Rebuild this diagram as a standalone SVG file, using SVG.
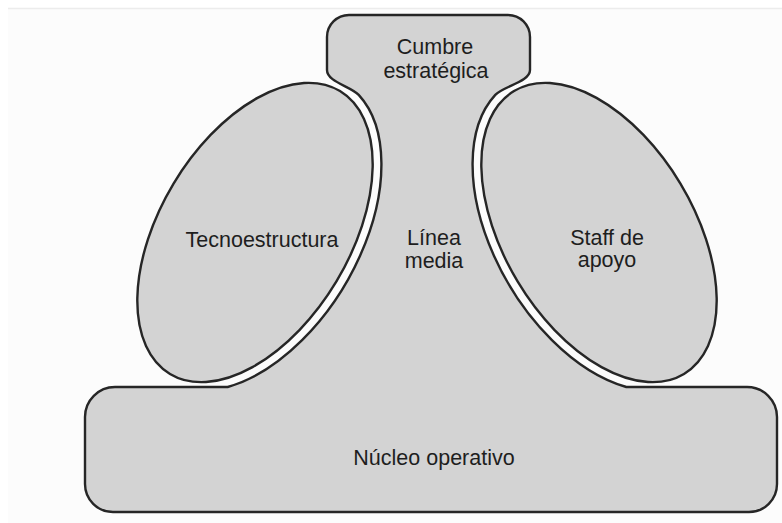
<svg xmlns="http://www.w3.org/2000/svg" width="782" height="523" viewBox="0 0 782 523">
  <style>
    .shape { fill: #d3d3d3; stroke: #262626; stroke-width: 2.4; }
    .label { font-family: "Liberation Sans", Arial, sans-serif; font-size: 21.5px; fill: #1e1e1e; text-anchor: middle; }
  </style>
  <rect x="0" y="0" width="782" height="523" fill="#ffffff"/>
  <rect x="8" y="8" width="774" height="515" fill="#fcfcfc"/>
  <line x1="8" y1="8.5" x2="782" y2="8.5" stroke="#ececec" stroke-width="1.5"/>

  <g id="cumbre-linea-nucleo">
    <path class="shape" d="M 115,387 L 227.7,387 A 104 174 31 0 0 358.7,94.9 C 350.6,86.1 327,82 327,70 L 327,37 A 22 22 0 0 1 349,15 L 508,15 A 22 22 0 0 1 530,37 L 530,70 C 530,82 503.4,86.1 495.3,94.9 A 104 174 -31 0 0 626.3,387 L 747,387 A 30 30 0 0 1 777,417 L 777,484 A 28 28 0 0 1 749,512 L 113,512 A 28 28 0 0 1 85,484 L 85,417 A 30 30 0 0 1 115,387 Z"/>
  </g>

  <g id="cumbre-estrategica">
    <text class="label" x="435" y="54">Cumbre</text>
    <text class="label" x="436" y="78">estratégica</text>
  </g>

  <g id="linea-media">
    <text class="label" x="434" y="245">Línea</text>
    <text class="label" x="434" y="268">media</text>
  </g>

  <g id="tecnoestructura">
    <ellipse class="shape" cx="255" cy="232.5" rx="95" ry="165" transform="rotate(31 255 232.5)"/>
    <text class="label" x="262" y="247">Tecnoestructura</text>
  </g>

  <g id="staff-de-apoyo">
    <ellipse class="shape" cx="599" cy="232.5" rx="95" ry="165" transform="rotate(-31 599 232.5)"/>
    <text class="label" x="607" y="245">Staff de</text>
    <text class="label" x="607" y="267">apoyo</text>
  </g>

  <g id="nucleo-operativo">
    <text class="label" x="434" y="465">Núcleo operativo</text>
  </g>

  <g id="connectors"/>
</svg>
